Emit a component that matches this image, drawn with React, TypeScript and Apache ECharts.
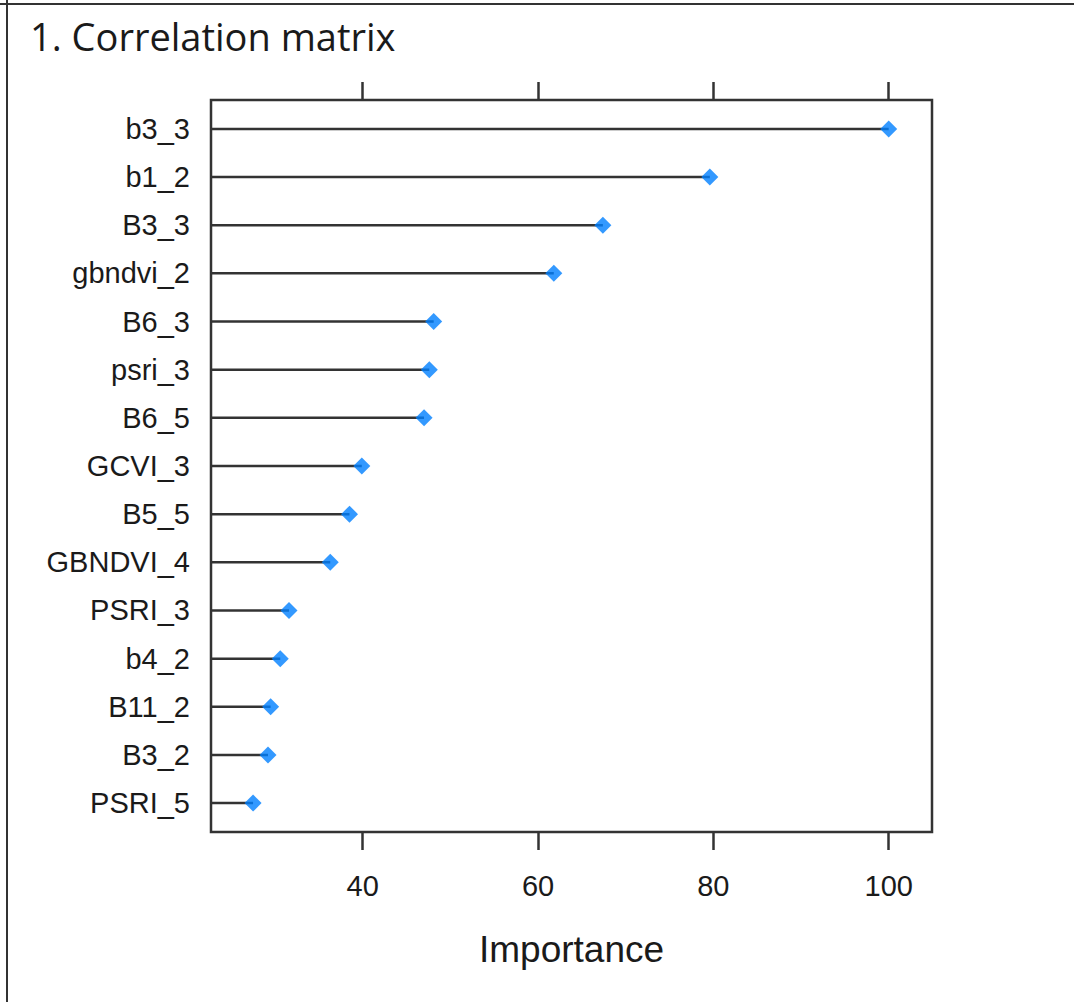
import React, { useEffect, useRef } from "react";
import * as echarts from "echarts";

const categories = [
  "b3_3", "b1_2", "B3_3", "gbndvi_2", "B6_3", "psri_3", "B6_5", "GCVI_3",
  "B5_5", "GBNDVI_4", "PSRI_3", "b4_2", "B11_2", "B3_2", "PSRI_5",
];
const importance = [
  100, 79.6, 67.4, 61.8, 48.1, 47.6, 47.0, 39.9, 38.5, 36.3, 31.6, 30.6, 29.5, 29.2, 27.5,
];
const xTicks = [40, 60, 80, 100];
const title = "1. Correlation matrix";
const xName = "Importance";

const X_MIN = 22.7;
const X_MAX = 104.94;

export default function App() {
  const ref = useRef<HTMLDivElement>(null);
  useEffect(() => {
    document.body.style.margin = "0";
    const chart = echarts.init(ref.current!, null, { renderer: "svg" });
    const yIdx = categories.map((_, i) => i);
    const pts = importance.map((v, i) => [v, i]);
    const axisFont = { fontFamily: "Liberation Sans", fontSize: 29, color: "#1a1a1a" };
    const tick = {
      show: true,
      inside: false,
      length: 18,
      customValues: xTicks,
      lineStyle: { color: "#333333", width: 2.5 },
    };
    chart.setOption({
      animation: false,
      backgroundColor: "#ffffff",
      grid: {
        left: 211,
        right: 142,
        top: 100,
        bottom: 170,
        show: true,
        borderColor: "#333333",
        borderWidth: 2.5,
        backgroundColor: "transparent",
      },
      xAxis: [
        {
          type: "value",
          position: "bottom",
          min: X_MIN,
          max: X_MAX,
          axisLine: { show: false, onZero: false },
          splitLine: { show: false },
          axisTick: tick,
          axisLabel: { ...axisFont, customValues: xTicks, margin: 39 },
          name: xName,
          nameLocation: "middle",
          nameGap: 99,
          nameTextStyle: { fontFamily: "Liberation Sans", fontSize: 37, color: "#1a1a1a" },
        },
        {
          type: "value",
          position: "top",
          min: X_MIN,
          max: X_MAX,
          axisLine: { show: false, onZero: false },
          splitLine: { show: false },
          axisTick: tick,
          axisLabel: { show: false },
        },
      ],
      yAxis: {
        type: "value",
        inverse: true,
        min: -0.6,
        max: 14.6,
        axisLine: { show: false, onZero: false },
        axisTick: { show: false },
        splitLine: { show: false },
        axisLabel: {
          ...axisFont,
          margin: 21,
          customValues: yIdx,
          formatter: (v: number) => categories[Math.round(v)] ?? "",
        },
      },
      graphic: [
        { type: "line", shape: { x1: 0, y1: 4, x2: 1074, y2: 4 }, style: { stroke: "#333333", lineWidth: 2 } },
        { type: "line", shape: { x1: 7, y1: 0, x2: 7, y2: 1002 }, style: { stroke: "#333333", lineWidth: 2 } },
        {
          type: "text",
          x: 30,
          y: 36,
          style: {
            text: title,
            fontFamily: "Open Sans",
            fontSize: 38,
            fill: "#1a1a1a",
            verticalAlign: "middle",
          },
        },
      ],
      series: [
        {
          type: "custom",
          xAxisIndex: 0,
          data: pts,
          encode: { x: 0, y: 1 },
          renderItem: (_p: any, api: any) => {
            const y = api.value(1);
            const v = api.value(0);
            const s = api.coord([X_MIN, y]);
            const e = api.coord([v, y]);
            return {
              type: "line",
              shape: { x1: s[0], y1: s[1], x2: e[0], y2: e[1] },
              style: { stroke: "#333333", lineWidth: 2.5 },
            };
          },
          z: 2,
        },
        {
          type: "scatter",
          xAxisIndex: 0,
          data: pts,
          symbol: "diamond",
          symbolSize: 17,
          itemStyle: { color: "#0080ff" },
          z: 3,
        },
      ],
    });
    return () => chart.dispose();
  }, []);
  return <div ref={ref} style={{ width: 1074, height: 1002 }} />;
}
